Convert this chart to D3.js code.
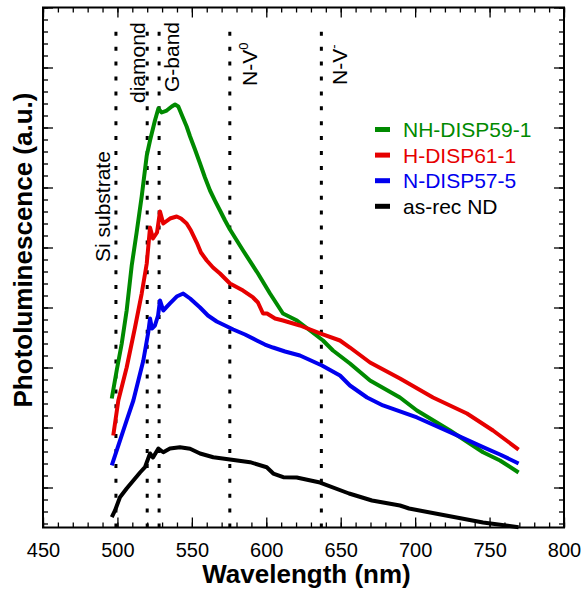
<!DOCTYPE html>
<html>
<head>
<meta charset="utf-8">
<script src="https://cdn.jsdelivr.net/npm/d3@7"></script>
<style>
  body { margin: 0; background: #fff; }
  svg { font-family: "Liberation Sans", Arial, sans-serif; }
</style>
</head>
<body>
<div id="chart"></div>
<script>
// PL spectra, wavelength (nm) vs intensity (a.u.)
var nh59Nm = [496.2, 499.5, 502.9, 506.2, 509.6, 512.9, 516.3, 519.7, 521.9, 525.2, 527.5, 529.7, 533.1, 536.5, 538.7, 540.9, 543.4, 546.5, 548.8, 552.1, 555.5, 558.8, 562.2, 565.5, 568.9, 572.3, 575.6, 584.4, 594.4, 602.5, 611.2, 620.6, 629.4, 638.1, 644.8, 656.2, 669.7, 689.8, 701.2, 723.4, 745.6, 757.0, 769.5];
var nh59Pl = [2483, 2950, 3400, 3950, 4700, 5250, 5850, 6533, 6783, 7117, 7317, 7250, 7283, 7350, 7383, 7350, 7200, 7017, 6850, 6633, 6400, 6167, 5950, 5783, 5617, 5450, 5300, 4950, 4567, 4233, 3900, 3783, 3617, 3450, 3283, 3067, 2783, 2500, 2283, 1950, 1588, 1450, 1250];

var h61Nm = [497.2, 500.6, 506.2, 511.8, 516.3, 519.7, 521.9, 523.9, 526.6, 528.6, 530.8, 535.3, 539.8, 542.7, 546.5, 549.4, 553.3, 556.1, 560.0, 564.2, 568.9, 575.6, 584.4, 591.1, 594.4, 597.8, 600.5, 605.9, 611.2, 622.6, 636.1, 649.5, 656.2, 669.7, 689.8, 712.0, 734.8, 752.3, 769.5];
var h61Pl = [1867, 2450, 3000, 3667, 4233, 4733, 5333, 5150, 5250, 5600, 5400, 5483, 5517, 5483, 5400, 5283, 5083, 4917, 4783, 4667, 4567, 4400, 4283, 4167, 4083, 3900, 3900, 3817, 3783, 3700, 3567, 3450, 3333, 3083, 2817, 2500, 2233, 1950, 1633];

var n57Nm = [496.2, 501.7, 506.2, 510.7, 517.4, 520.7, 521.9, 523.2, 525.2, 527.3, 528.6, 530.8, 535.3, 539.8, 544.2, 548.8, 555.5, 560.8, 566.7, 572.3, 577.8, 585.7, 593.6, 599.1, 604.5, 612.6, 622.6, 637.4, 649.5, 656.2, 667.7, 678.4, 701.2, 723.4, 745.6, 757.0, 769.5];
var n57Pl = [1367, 1783, 2117, 2450, 3117, 3583, 3817, 3650, 3700, 3867, 4117, 3950, 4067, 4183, 4233, 4150, 4000, 3867, 3767, 3700, 3633, 3550, 3450, 3383, 3333, 3267, 3200, 3033, 2867, 2700, 2500, 2367, 2167, 1922, 1672, 1550, 1400];

var asRecNm = [496.2, 498.4, 501.7, 506.2, 510.7, 515.2, 518.5, 521.9, 523.9, 527.5, 530.8, 535.3, 542.0, 548.8, 555.5, 564.4, 575.6, 589.1, 600.3, 604.7, 611.4, 620.4, 636.1, 655.6, 671.0, 689.8, 695.9, 720.7, 745.6, 769.5];
var asRecPl = [505, 617, 838, 983, 1117, 1250, 1338, 1567, 1500, 1650, 1588, 1650, 1672, 1645, 1567, 1505, 1467, 1422, 1338, 1233, 1172, 1167, 1083, 900, 783, 700, 650, 533, 417, 338];

var seriesNames = ["NH-DISP59-1", "H-DISP61-1", "N-DISP57-5", "as-rec ND"];
var seriesColors = ["#008a00", "#e60000", "#0000ee", "#000000"];

// dotted reference lines
var markNames = ["Si substrate", "diamond", "G-band", "N-V", "N-V"];
var markSup = ["", "", "", "0", "-"];
var markNm = [499, 520, 528, 575.5, 637];

var xTicks = [450, 500, 550, 600, 650, 700, 750, 800];

var width = 583, height = 592;
var margin = { top: 7.5, right: 19, bottom: 64.5, left: 43 };
var plotW = width - margin.left - margin.right;
var plotH = height - margin.top - margin.bottom;

var svg = d3.select("#chart").append("svg")
    .attr("width", width)
    .attr("height", height);

var g = svg.append("g")
    .attr("transform", "translate(" + margin.left + "," + margin.top + ")");

var x = d3.scaleLinear().domain([450, 800]).range([0, plotW]);
var y = d3.scaleLinear().domain([1000 / 3, 9000]).range([plotH, 0]);

var minorX = d3.range(450, 801, 10);
var majorY = d3.range(1000, 9001, 1000);
var minorY = d3.range(400, 9001, 200);

function styleAxis(sel) {
    sel.select(".domain").remove();
    sel.selectAll("line").attr("stroke", "#000").attr("stroke-width", 1.3);
}

// bottom
g.append("g").attr("transform", "translate(0," + plotH + ")")
    .call(d3.axisBottom(x).tickValues(minorX).tickSize(-5).tickFormat(""))
    .call(styleAxis);
g.append("g").attr("transform", "translate(0," + plotH + ")")
    .call(d3.axisBottom(x).tickValues(xTicks).tickSize(-10).tickPadding(15).tickFormat(d3.format("d")))
    .call(styleAxis)
    .selectAll("text").attr("font-size", 20).attr("fill", "#000")
    .attr("font-family", "'Liberation Sans', Arial, sans-serif");
// top
g.append("g")
    .call(d3.axisTop(x).tickValues(minorX).tickSize(-5).tickFormat(""))
    .call(styleAxis);
g.append("g")
    .call(d3.axisTop(x).tickValues(xTicks).tickSize(-10).tickFormat(""))
    .call(styleAxis);
// left / right, no labels
g.append("g")
    .call(d3.axisLeft(y).tickValues(minorY).tickSize(-5).tickFormat(""))
    .call(styleAxis);
g.append("g")
    .call(d3.axisLeft(y).tickValues(majorY).tickSize(-10).tickFormat(""))
    .call(styleAxis);
g.append("g").attr("transform", "translate(" + plotW + ",0)")
    .call(d3.axisRight(y).tickValues(minorY).tickSize(-5).tickFormat(""))
    .call(styleAxis);
g.append("g").attr("transform", "translate(" + plotW + ",0)")
    .call(d3.axisRight(y).tickValues(majorY).tickSize(-10).tickFormat(""))
    .call(styleAxis);

var lineTop = y.invert(13.5);
g.append("g").selectAll("line")
    .data(markNm)
    .enter().append("line")
    .attr("x1", function(d) { return x(d); })
    .attr("x2", function(d) { return x(d); })
    .attr("y1", y(1000 / 3))
    .attr("y2", y(lineTop))
    .attr("stroke", "#000")
    .attr("stroke-width", 3)
    .attr("stroke-dasharray", "4 10.9");

// rotated labels next to the dotted lines
var labelPos = [
    { dx: -6, py: 254.5 },
    { dx: -2, py: 95.5 },
    { dx: 20, py: 84.5 },
    { dx: 27, py: 78.5 },
    { dx: 26, py: 77.5 }
];
var labels = g.append("g").selectAll("text")
    .data(markNames)
    .enter().append("text")
    .attr("transform", function(d, i) {
        return "translate(" + (x(markNm[i]) + labelPos[i].dx) + "," + labelPos[i].py + ") rotate(-90)";
    })
    .attr("font-size", 21)
    .attr("fill", "#000")
    .text(function(d) { return d; });
labels.each(function(d, i) {
    if (markSup[i] === "") return;
    d3.select(this).append("tspan")
        .attr("dy", -9)
        .attr("font-size", 13)
        .text(markSup[i]);
});

// spectra
var spectra = [
    { nm: nh59Nm, pl: nh59Pl },
    { nm: h61Nm, pl: h61Pl },
    { nm: n57Nm, pl: n57Pl },
    { nm: asRecNm, pl: asRecPl }
];

var line = d3.line()
    .x(function(d) { return x(d[0]); })
    .y(function(d) { return y(d[1]); });

g.append("g").selectAll("path")
    .data(spectra)
    .enter().append("path")
    .attr("d", function(s) { return line(d3.zip(s.nm, s.pl)); })
    .attr("fill", "none")
    .attr("stroke", function(s, i) { return seriesColors[i]; })
    .attr("stroke-width", 4)
    .attr("stroke-linejoin", "round");

// frame
g.append("rect")
    .attr("width", plotW)
    .attr("height", plotH)
    .attr("fill", "none")
    .attr("stroke", "#000")
    .attr("stroke-width", 2);

// legend
var legend = svg.append("g").attr("transform", "translate(375,137)");
var rows = legend.selectAll("g")
    .data(seriesNames)
    .enter().append("g")
    .attr("transform", function(d, i) { return "translate(0," + (i * 25.6) + ")"; });
rows.append("rect")
    .attr("x", 0).attr("y", -10)
    .attr("width", 15).attr("height", 5)
    .attr("fill", function(d, i) { return seriesColors[i]; });
rows.append("text")
    .attr("x", 28)
    .attr("font-size", 21)
    .attr("fill", function(d, i) { return seriesColors[i]; })
    .text(function(d) { return d; });

// axis titles
svg.append("text")
    .attr("x", margin.left + plotW / 2 + 3)
    .attr("y", 583)
    .attr("text-anchor", "middle")
    .attr("font-size", 26)
    .attr("font-weight", "bold")
    .text("Wavelength (nm)");
svg.append("text")
    .attr("transform", "translate(32,250) rotate(-90)")
    .attr("text-anchor", "middle")
    .attr("font-size", 26)
    .attr("font-weight", "bold")
    .text("Photoluminescence (a.u.)");
</script>
</body>
</html>
